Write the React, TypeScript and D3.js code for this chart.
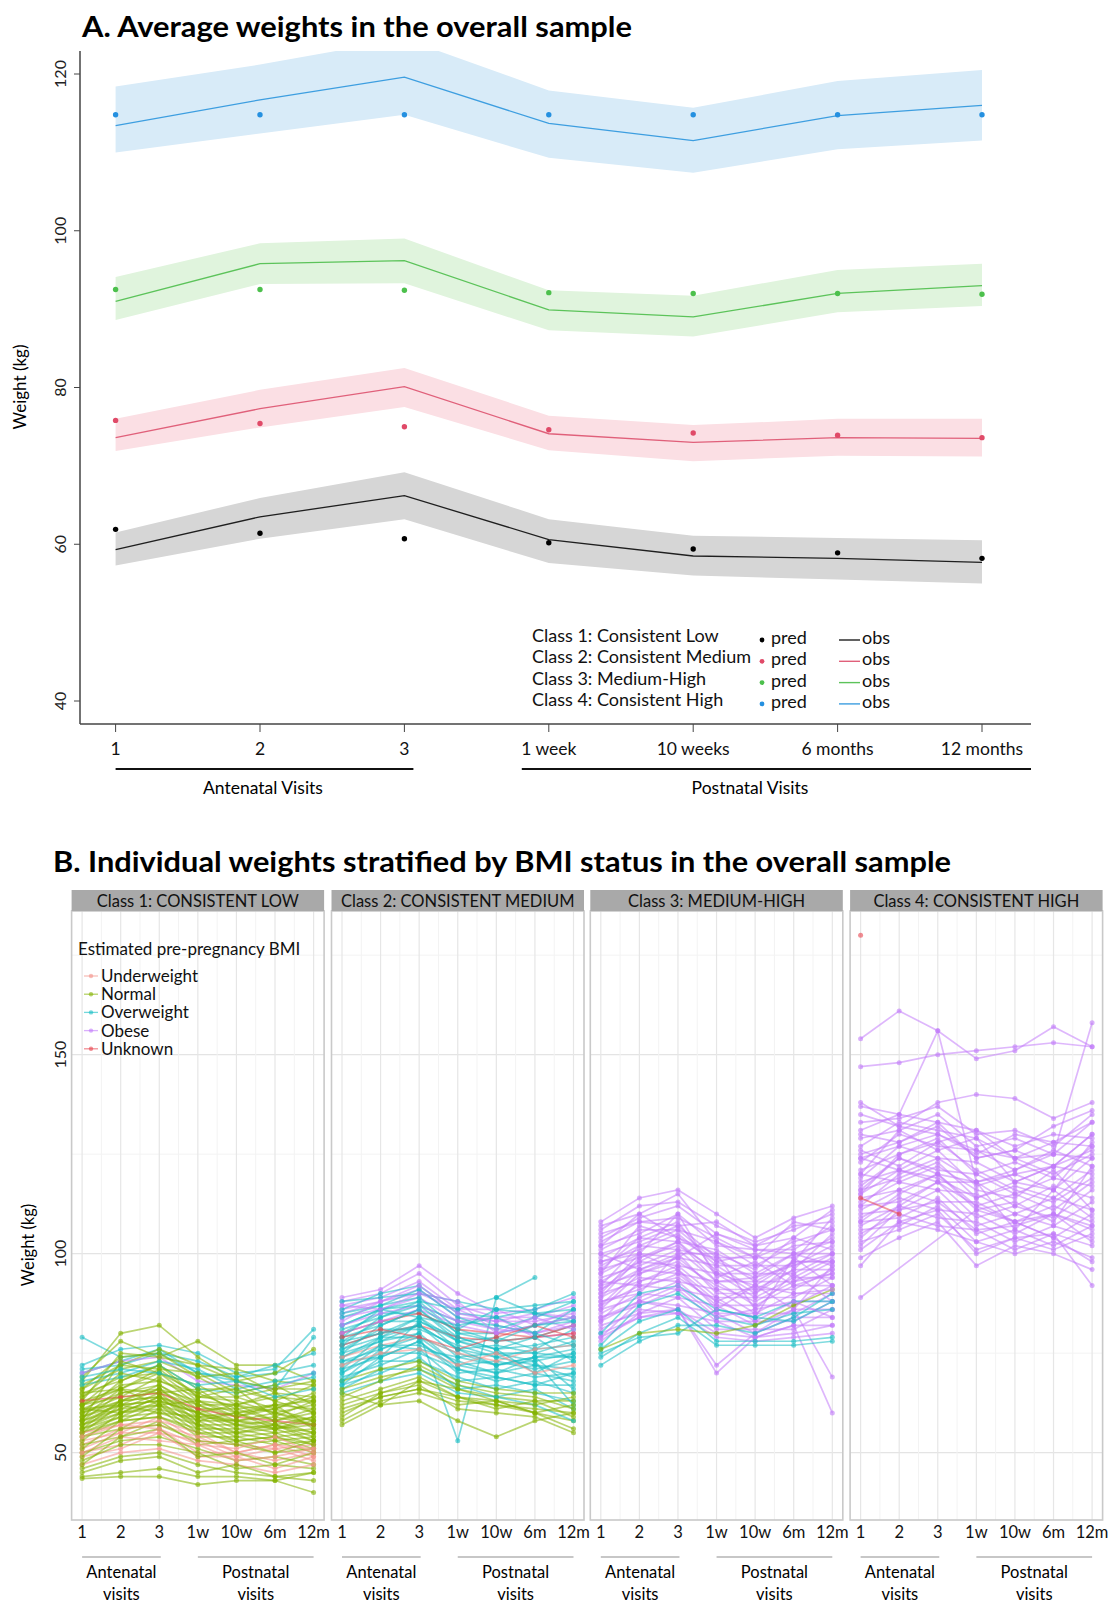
import React from "react";
import * as d3 from "d3";

// ---------- Panel A data ----------
const visitsA = ["1", "2", "3", "1 week", "10 weeks", "6 months", "12 months"];
const classLabels = [
  "Class 1: Consistent Low",
  "Class 2: Consistent Medium",
  "Class 3: Medium-High",
  "Class 4: Consistent High",
];
// class 1
const obs1 = [59.3, 63.5, 66.2, 60.6, 58.5, 58.2, 57.7];
const hi1 = [61.5, 65.9, 69.2, 63.2, 61.1, 60.8, 60.5];
const lo1 = [57.3, 60.7, 63.2, 57.6, 56.0, 55.5, 55.0];
const pred1 = [61.9, 61.4, 60.7, 60.2, 59.4, 58.9, 58.2];
// class 2
const obs2 = [73.6, 77.3, 80.1, 74.1, 73.0, 73.6, 73.5];
const hi2 = [76.0, 79.7, 82.5, 76.4, 75.2, 76.0, 76.0];
const lo2 = [71.9, 74.9, 77.5, 72.0, 70.6, 71.3, 71.2];
const pred2 = [75.8, 75.4, 75.0, 74.6, 74.2, 73.9, 73.6];
// class 3
const obs3 = [91.0, 95.8, 96.2, 89.9, 89.0, 92.0, 93.0];
const hi3 = [94.1, 98.4, 99.0, 92.4, 91.7, 95.0, 95.8];
const lo3 = [88.6, 93.2, 93.3, 87.3, 86.5, 89.6, 90.4];
const pred3 = [92.5, 92.5, 92.4, 92.1, 92.0, 92.0, 91.9];
// class 4
const obs4 = [113.4, 116.7, 119.6, 113.7, 111.5, 114.7, 116.0];
const hi4 = [118.4, 121.2, 124.5, 117.9, 115.7, 119.1, 120.5];
const lo4 = [110.0, 112.4, 114.8, 109.3, 107.4, 110.4, 111.5];
const pred4 = [114.8, 114.8, 114.8, 114.8, 114.8, 114.8, 114.8];

const yTicksA = [40, 60, 80, 100, 120];

// ---------- Panel B data ----------
const visitsB = ["1", "2", "3", "1w", "10w", "6m", "12m"];
const facetLabels = [
  "Class 1: CONSISTENT LOW",
  "Class 2: CONSISTENT MEDIUM",
  "Class 3: MEDIUM-HIGH",
  "Class 4: CONSISTENT HIGH",
];
const bmiNames = ["Underweight", "Normal", "Overweight", "Obese", "Unknown"];
const bmiCodes = ["U", "N", "O", "B", "X"];
const yTicksB = [50, 100, 150];

type Traj = (string | number | null)[];

const traj1: Traj[] = [
  ["O", 79, 74, 75, 73, 69, 70, 72],
  ["O", 72, 76, 77, 75, 70, 71, 81],
  ["O", 70, 73, 76, 70, 68, 66, 79],
  ["N", 68, 80, 82, 74, 68, 70, 76],
  ["N", 69, 78, 74, 78, 72, 72, 68],
  ["N", 67, 72, 76, 72, 71, 68, 67],
  ["O", 71, 72, 75, 70, 69, 72, 75],
  ["B", 70, 73, 74, 68, 67, 66, 70],
  ["N", 66, 71, 73, 69, 64, 66, 68],
  ["N", 65, 68, 72, 66, 66, 63, 67],
  ["N", 64, 69, 70, 67, 62, 64, 63],
  ["N", 63, 66, 71, 64, 64, 61, 65],
  ["N", 62, 67, 68, 65, 61, 62, 61],
  ["N", 62, 64, 69, 62, 62, 60, 62],
  ["N", 61, 65, 66, 63, 59, 61, 58],
  ["N", 60, 63, 67, 61, 61, 58, 60],
  ["N", 60, 64, 65, 62, 58, 59, 57],
  ["N", 59, 62, 66, 59, 60, 57, 59],
  ["N", 59, 63, 64, 61, 57, 58, 55],
  ["N", 58, 61, 65, 58, 58, 56, 57],
  ["N", 58, 62, 63, 60, 56, 57, 54],
  ["N", 57, 60, 64, 57, 57, 55, 56],
  ["N", 57, 61, 62, 59, 55, 56, 53],
  ["N", 56, 59, 63, 56, 56, 54, 55],
  ["N", 56, 60, 61, 58, 54, 55, 52],
  ["N", 55, 58, 62, 55, 55, 53, 54],
  ["N", 55, 59, 60, 57, 53, 54, 51],
  ["N", 54, 56, 61, 54, 54, 52, 53],
  ["N", 54, 58, 59, 56, 52, 53, 50],
  ["U", 53, 55, 59, 53, 52, 51, 52],
  ["U", 52, 56, 57, 54, 50, 52, 49],
  ["N", 52, 54, 58, 52, 53, 50, 51],
  ["U", 51, 55, 55, 53, 49, 51, 48],
  ["U", 50, 52, 56, 50, 50, 48, 50],
  ["N", 50, 53, 54, 51, 48, 49, 47],
  ["U", 49, 51, 55, 49, 49, 46, 49],
  ["N", 48, 52, 52, 50, 46, 47, 46],
  ["U", 47, 50, 51, 48, 47, 45, 47],
  ["N", 46, 49, 50, 47, 45, 44, 45],
  ["N", 44, 45, 46, 44, 44, 43, 45],
  ["N", 43.5, 44, 44, 42, 43, 43, 40],
  ["O", 68, 70, 73, 71, 66, 68, 70],
  ["O", 67, 69, 72, 66, 65, 67, 69],
  ["N", 63, 75, 74, 72, 68, 66, 66],
  ["N", 58, 73, 70, 65, 67, 63, 60],
  ["X", 63, 64, 65, 61, 59, 58, 57],
  ["U", 55, 57, 58, 55, 50, 52, 51],
  ["N", 61, 62, 63, 60, 57, 56, 58],
  ["N", 65, 66, 70, 63, 62, 65, 60],
  ["N", 62, 70, 68, 64, 66, 59, 63],
  ["N", 59, 66, 62, 63, 60, 62, 56],
  ["N", 57, 63, 66, 60, 62, 58, 61],
  ["N", 55, 62, 60, 59, 58, 60, 57],
  ["N", 53, 60, 62, 57, 55, 57, 55],
  ["N", 51, 58, 59, 55, 53, 54, 52],
  ["N", 49, 56, 57, 53, 52, 50, 53],
  ["U", 50, 54, 53, 52, 48, 49, 51],
  ["N", 47, 54, 56, 49, 50, 47, 50],
  ["N", 66, 74, 75, 69, 70, 65, 64],
  ["N", 64, 72, 71, 70, 65, 67, 62],
  ["O", 69, 71, 70, 67, 68, 64, 66],
  ["N", 60, 68, 72, 64, 63, 60, 58],
  ["N", 58, 65, 67, 62, 59, 62, 63],
  ["N", 56, 63, 64, 58, 60, 56, 59],
  ["U", 54, 57, 56, 52, 51, 54, 50],
  ["N", 45, 48, 49, 45, 47, 44, 43],
  ["N", 61, 60, 64, 60, 58, 57, 53],
  ["N", 62, 66, 65, 66, 60, 61, 64],
];

const traj2: Traj[] = [
  ["B", 89, 91, 97, 90, 85, 86, 89],
  ["B", 88, 90, 95, 87, 84, 84, 87],
  ["B", 87, 89, 93, 86, 86, 82, 86],
  ["B", 86, 88, 91, 84, 83, 85, 84],
  ["B", 85, 88, 90, 86, 82, 80, 83],
  ["B", 84, 86, 89, 83, 84, 79, 80],
  ["O", 82, 86, 88, 86, 89, 94, null],
  ["O", 86, 90, 92, 85, 84, 86, 90],
  ["O", 84, 87, 91, 84, 81, 84, 88],
  ["O", 82, 86, 87, 83, 82, 80, 86],
  ["O", 81, 84, 88, 80, 80, 82, 84],
  ["O", 80, 85, 85, 81, 78, 79, 82],
  ["O", 79, 82, 86, 78, 79, 76, 81],
  ["O", 78, 83, 83, 79, 76, 77, 79],
  ["O", 77, 80, 84, 76, 77, 75, 78],
  ["O", 76, 81, 81, 77, 74, 76, 77],
  ["O", 75, 78, 82, 74, 75, 73, 75],
  ["O", 74, 79, 79, 75, 72, 74, 74],
  ["O", 73, 76, 80, 72, 73, 71, 73],
  ["O", 72, 77, 77, 73, 70, 72, 71],
  ["O", 71, 74, 78, 70, 71, 69, 70],
  ["O", 70, 75, 75, 71, 68, 70, 68],
  ["O", 69, 72, 76, 68, 69, 67, 67],
  ["O", 68, 73, 73, 69, 66, 68, 65],
  ["O", 67, 70, 74, 66, 67, 65, 63],
  ["O", 66, 71, 71, 67, 64, 66, 61],
  ["O", 74, 78, 80, 53, 89, 85, 83],
  ["N", 63, 66, 69, 64, 62, 61, 60],
  ["N", 60, 64, 66, 63, 62, 60, 58],
  ["N", 58, 63, 65, 62, 63, 60, 56],
  ["N", 57, 62, 63, 58, 54, 58, 60],
  ["N", 66, 69, 71, 66, 64, 63, 63],
  ["N", 68, 71, 73, 68, 66, 65, 65],
  ["X", 80, 83, 85, 81, 80, 79, 82],
  ["X", 77, 80, 82, 79, 78, 79, 80],
  ["U", 74, 77, 79, 75, 73, 76, 77],
  ["B", 82, 85, 87, 83, 81, 80, 82],
  ["B", 80, 83, 86, 82, 80, 82, 84],
  ["O", 88, 89, 90, 88, 86, 87, 88],
  ["O", 85, 87, 89, 81, 86, 85, 86],
  ["N", 62, 65, 67, 61, 60, 59, 55],
  ["O", 65, 68, 70, 65, 64, 62, 58],
  ["N", 61, 64, 66, 64, 63, 62, 64],
  ["O", 76, 79, 84, 78, 75, 75, 74],
  ["O", 79, 86, 84, 82, 84, 80, 77],
  ["O", 75, 82, 86, 79, 76, 79, 73],
  ["O", 71, 79, 82, 76, 74, 72, 69],
  ["O", 68, 76, 79, 72, 70, 74, 66],
  ["O", 73, 74, 83, 78, 76, 70, 75],
  ["O", 70, 77, 76, 74, 72, 73, 62],
  ["B", 83, 88, 92, 85, 83, 83, 85],
  ["B", 87, 86, 90, 88, 80, 84, 81],
  ["X", 79, 81, 79, 76, 79, 82, 79],
  ["U", 72, 75, 76, 72, 75, 70, 72],
  ["N", 64, 68, 72, 67, 65, 64, 61],
  ["N", 59, 65, 68, 64, 61, 63, 59],
  ["O", 67, 74, 78, 71, 69, 67, 70],
  ["O", 78, 80, 82, 76, 72, 74, 76],
  ["O", 77, 84, 87, 80, 78, 82, 83],
  ["N", 65, 62, 68, 66, 63, 60, 62],
];

const traj3: Traj[] = [
  ["B", 108, 114, 116, 110, 104, 109, 112],
  ["B", 106, 112, 113, 107, 103, 106, 110],
  ["B", 104, 109, 112, 105, 102, 107, 108],
  ["B", 103, 108, 109, 104, 99, 103, 106],
  ["B", 102, 105, 110, 102, 101, 101, 107],
  ["B", 101, 106, 106, 103, 97, 102, 103],
  ["B", 100, 103, 107, 99, 99, 99, 104],
  ["B", 99, 104, 103, 101, 95, 100, 100],
  ["B", 98, 101, 105, 97, 97, 97, 102],
  ["B", 97, 102, 101, 99, 93, 98, 98],
  ["B", 96, 99, 103, 95, 95, 95, 100],
  ["B", 95, 100, 99, 97, 91, 96, 96],
  ["B", 94, 97, 101, 93, 93, 93, 98],
  ["B", 93, 98, 97, 95, 89, 94, 94],
  ["B", 92, 95, 99, 91, 91, 91, 96],
  ["B", 91, 96, 95, 93, 87, 92, 92],
  ["B", 90, 93, 97, 89, 89, 89, 94],
  ["B", 89, 94, 93, 91, 85, 90, 90],
  ["B", 88, 91, 95, 87, 87, 87, 92],
  ["B", 87, 92, 91, 89, 83, 88, 88],
  ["B", 86, 89, 93, 85, 85, 85, 90],
  ["B", 85, 90, 89, 87, 82, 86, 86],
  ["B", 84, 87, 91, 83, 83, 83, 88],
  ["B", 83, 88, 87, 85, 80, 84, 84],
  ["B", 82, 85, 89, 81, 81, 81, 86],
  ["B", 81, 86, 85, 83, 79, 82, 82],
  ["B", 80, 84, 86, 80, 79, 80, 82],
  ["B", 79, 84, 85, 79, 78, 79, 80],
  ["B", 78, 85, 86, 70, 79, 82, 60],
  ["B", 84, 88, 86, 72, 80, 86, 69],
  ["O", 77, 87, 90, 84, 82, 85, 86],
  ["O", 76, 83, 86, 78, 78, 78, 79],
  ["O", 74, 80, 84, 77, 77, 77, 78],
  ["O", 72, 78, 82, 82, 80, 84, 90],
  ["O", 75, 79, 80, 86, 84, 88, 88],
  ["N", 76, 80, 81, 80, 82, 87, 91],
  ["B", 107, 110, 115, 103, 99, 108, 106],
  ["B", 105, 108, 107, 108, 102, 104, 111],
  ["B", 96, 104, 108, 95, 92, 98, 109],
  ["B", 91, 98, 103, 93, 94, 100, 103],
  ["B", 87, 96, 100, 90, 90, 98, 98],
  ["B", 100, 96, 99, 105, 101, 100, 97],
  ["B", 95, 107, 104, 100, 96, 104, 101],
  ["B", 92, 102, 106, 98, 100, 94, 99],
  ["B", 89, 99, 102, 96, 90, 96, 105],
  ["B", 86, 95, 98, 92, 88, 93, 95],
  ["B", 83, 93, 96, 88, 92, 90, 91],
  ["B", 98, 100, 110, 94, 98, 92, 95],
  ["B", 102, 110, 104, 98, 94, 97, 100],
  ["B", 88, 90, 100, 100, 86, 95, 88],
  ["B", 93, 92, 94, 88, 84, 99, 92],
  ["O", 80, 90, 92, 86, 84, 83, 88],
  ["B", 79, 88, 92, 84, 86, 88, 84],
  ["B", 90, 100, 96, 86, 92, 86, 97],
];

const traj4: Traj[] = [
  ["B", 154, 161, 156, 149, 151, 157, 152],
  ["B", 147, 148, 150, 151, 152, 153, 152],
  ["B", 137, 135, 156, 118, 120, 122, 126],
  ["B", 124, 127, 130, 126, 124, 125, 158],
  ["B", 138, 132, 138, 140, 139, 134, 138],
  ["B", 133, 134, 137, 130, 131, 127, 135],
  ["B", 131, 135, 133, 131, 127, 130, 129],
  ["B", 129, 131, 135, 127, 129, 125, 133],
  ["B", 127, 133, 131, 129, 124, 128, 127],
  ["B", 125, 128, 132, 124, 126, 122, 130],
  ["B", 123, 130, 127, 126, 121, 125, 124],
  ["B", 121, 125, 129, 120, 123, 119, 127],
  ["B", 119, 127, 124, 123, 118, 122, 120],
  ["B", 118, 121, 126, 117, 120, 116, 124],
  ["B", 117, 124, 121, 120, 115, 119, 117],
  ["B", 116, 119, 123, 114, 117, 114, 121],
  ["B", 115, 121, 118, 118, 112, 117, 114],
  ["B", 114, 116, 120, 112, 115, 111, 118],
  ["B", 113, 118, 116, 115, 110, 114, 111],
  ["B", 112, 113, 118, 109, 112, 109, 116],
  ["B", 111, 116, 113, 113, 108, 112, 108],
  ["B", 110, 111, 116, 107, 110, 107, 113],
  ["B", 109, 114, 111, 110, 105, 110, 106],
  ["B", 108, 109, 114, 105, 108, 104, 110],
  ["B", 107, 112, 109, 108, 103, 107, 104],
  ["B", 106, 107, 112, 103, 106, 102, 107],
  ["B", 105, 110, 107, 106, 101, 105, 102],
  ["B", 103, 106, 110, 101, 104, 101, 105],
  ["B", 101, 108, 106, 103, 100, 103, 99],
  ["B", 99, 104, 108, 97, 102, 100, 96],
  ["B", 89, null, null, 111, 108, 110, 107],
  ["B", 97, 108, 111, 100, 104, 105, 92],
  ["B", 130, 128, 133, 124, 126, 132, 136],
  ["B", 120, 131, 126, 129, 118, 122, 130],
  ["B", 135, 132, 130, 125, 130, 128, 133],
  ["B", 126, 122, 128, 131, 124, 120, 125],
  ["B", 104, 112, 118, 112, 108, 104, 98],
  ["B", 116, 124, 120, 118, 121, 126, 122],
  ["B", 120, 118, 122, 116, 114, 121, 111],
  ["B", 115, 125, 128, 121, 116, 113, 119],
  ["B", 108, 115, 120, 111, 113, 108, 122],
  ["B", 102, 111, 113, 106, 107, 110, 103],
  ["B", 124, 121, 119, 114, 118, 116, 128],
  ["B", 112, 120, 124, 118, 106, 116, 109],
  ["X", 180, null, null, null, null, null, null],
  ["X", 114, 110, null, null, null, null, null],
];

// ---------- styling (not data) ----------
const FONT = "Lato, 'Open Sans', sans-serif";
const styleA = [
  { line: "#1f1f1f", band: "#d6d6d6", dot: "#000000" },
  { line: "#e0607a", band: "#fbdfe4", dot: "#e04a68" },
  { line: "#5cc35a", band: "#e0f4dd", dot: "#4cc04c" },
  { line: "#3d9ee0", band: "#d8ebf8", dot: "#2590e0" },
];
const bmiColor: Record<string, string> = {
  U: "#f4928b",
  N: "#84b300",
  O: "#17bec4",
  B: "#c27cfa",
  X: "#e8454f",
};

const xA = d3.scalePoint<string>().domain(visitsA).range([115.6, 982]);
const yA = d3.scaleLinear().domain([40, 120]).range([701, 74]);
const yB = d3.scaleLinear().domain([50, 150]).range([1452.7, 1054.7]);

const facetLeft = [71.6, 331.5, 590.3, 850.1];
const facetW = 252.5;
const stripTop = 890;
const stripBot = 911;
const facetBot = 1520;

function PanelA() {
  const classes = [
    { obs: obs1, lo: lo1, hi: hi1, pred: pred1 },
    { obs: obs2, lo: lo2, hi: hi2, pred: pred2 },
    { obs: obs3, lo: lo3, hi: hi3, pred: pred3 },
    { obs: obs4, lo: lo4, hi: hi4, pred: pred4 },
  ];
  const line = d3
    .line<number>()
    .x((_, i) => xA(visitsA[i])!)
    .y((d) => yA(d));
  return (
    <g>
      <text x={82} y={37} fontFamily={FONT} fontWeight={700} fontSize={29} textLength={550} lengthAdjust="spacingAndGlyphs">
        A. Average weights in the overall sample
      </text>
      <defs>
        <clipPath id="clipA">
          <rect x={80} y={51} width={951} height={673} />
        </clipPath>
      </defs>
      <g clipPath="url(#clipA)">
        {classes.map((c, k) => {
          const area = d3
            .area<number>()
            .x((_, i) => xA(visitsA[i])!)
            .y0((_, i) => yA(c.lo[i]))
            .y1((d) => yA(d));
          return <path key={"b" + k} d={area(c.hi)!} fill={styleA[k].band} />;
        })}
        {classes.map((c, k) => (
          <path key={"l" + k} d={line(c.obs)!} fill="none" stroke={styleA[k].line} strokeWidth={1.3} />
        ))}
        {classes.map((c, k) =>
          c.pred.map((v, i) => (
            <circle key={"p" + k + i} cx={xA(visitsA[i])} cy={yA(v)} r={2.7} fill={styleA[k].dot} />
          ))
        )}
      </g>
      {/* axes */}
      <line x1={80} y1={51} x2={80} y2={724} stroke="#444" strokeWidth={1.5} />
      <line x1={80} y1={724} x2={1031} y2={724} stroke="#444" strokeWidth={1.5} />
      {yTicksA.map((t) => (
        <g key={t}>
          <line x1={74} x2={80} y1={yA(t)} y2={yA(t)} stroke="#444" />
          <text transform={`translate(66,${yA(t)}) rotate(-90)`} textAnchor="middle" fontFamily={FONT} fontSize={16} fill="#222">
            {t}
          </text>
        </g>
      ))}
      <text transform="translate(26,387) rotate(-90)" textAnchor="middle" fontFamily={FONT} fontSize={17}>
        Weight (kg)
      </text>
      {visitsA.map((v) => (
        <g key={v}>
          <line x1={xA(v)} x2={xA(v)} y1={724} y2={732} stroke="#444" />
          <text x={xA(v)} y={755} textAnchor="middle" fontFamily={FONT} fontSize={17.5} fill="#111">
            {v}
          </text>
        </g>
      ))}
      <line x1={xA("1")!} x2={xA("3")! + 9} y1={769} y2={769} stroke="#111" strokeWidth={2} />
      <line x1={xA("1 week")! - 27} x2={1031} y1={769} y2={769} stroke="#111" strokeWidth={2} />
      <text x={263} y={794} textAnchor="middle" fontFamily={FONT} fontSize={17.5}>
        Antenatal Visits
      </text>
      <text x={750} y={794} textAnchor="middle" fontFamily={FONT} fontSize={17.5}>
        Postnatal Visits
      </text>
      {/* legend */}
      {classLabels.map((lab, k) => {
        const y = 636 + k * 21.3;
        return (
          <g key={lab}>
            <text x={532} y={y + 6} fontFamily={FONT} fontSize={18} fill="#111">
              {lab}
            </text>
            <circle cx={762} cy={y + 4} r={2.4} fill={styleA[k].dot} />
            <text x={771} y={y + 8} fontFamily={FONT} fontSize={18} fill="#111">
              pred
            </text>
            <line x1={839} x2={860} y1={y + 4} y2={y + 4} stroke={styleA[k].line} strokeWidth={1.4} />
            <text x={862} y={y + 8} fontFamily={FONT} fontSize={18} fill="#111">
              obs
            </text>
          </g>
        );
      })}
    </g>
  );
}

function Facet({ idx, data }: { idx: number; data: Traj[] }) {
  const left = facetLeft[idx];
  const x = d3.scalePoint<string>().domain(visitsB).range([left + 10.5, left + 242]);
  const step = x.step();
  const line = d3
    .line<[number, number]>()
    .x((d) => d[0])
    .y((d) => d[1]);
  const minorX = visitsB.slice(0, -1).map((v) => x(v)! + step / 2);
  const antL = x("1")!;
  const antR = x("3")! + 1.5;
  const posL = x("1w")!;
  const posR = x("12m")!;
  return (
    <g>
      <defs>
        <clipPath id={"clipB" + idx}>
          <rect x={left} y={stripBot} width={facetW} height={facetBot - stripBot} />
        </clipPath>
      </defs>
      <rect x={left} y={stripBot} width={facetW} height={facetBot - stripBot} fill="#fff" />
      <g clipPath={`url(#clipB${idx})`}>
        {[75, 125, 175].map((t) => (
          <line key={"mh" + t} x1={left} x2={left + facetW} y1={yB(t)} y2={yB(t)} stroke="#f3f3f3" />
        ))}
        {yTicksB.map((t) => (
          <line key={"h" + t} x1={left} x2={left + facetW} y1={yB(t)} y2={yB(t)} stroke="#e4e4e4" strokeWidth={1.2} />
        ))}
        {minorX.map((mx, i) => (
          <line key={"mv" + i} x1={mx} x2={mx} y1={stripBot} y2={facetBot} stroke="#f3f3f3" />
        ))}
        {visitsB.map((v) => (
          <line key={"v" + v} x1={x(v)} x2={x(v)} y1={stripBot} y2={facetBot} stroke="#e6e6e6" strokeWidth={1.2} />
        ))}
        {data.map((row, r) => {
          const pts: [number, number][] = [];
          for (let i = 0; i < 7; i++) {
            const val = row[i + 1];
            if (val !== null && val !== undefined) pts.push([x(visitsB[i])!, yB(val as number)]);
          }
          const col = bmiColor[row[0] as string];
          return (
            <g key={r}>
              {pts.length > 1 && (
                <path d={line(pts)!} fill="none" stroke={col} strokeOpacity={0.55} strokeWidth={1.7} />
              )}
              {pts.map((p, j) => (
                <circle key={j} cx={p[0]} cy={p[1]} r={2.5} fill={col} fillOpacity={0.6} />
              ))}
            </g>
          );
        })}
      </g>
      <rect x={left} y={stripBot} width={facetW} height={facetBot - stripBot} fill="none" stroke="#c9c9c9" strokeWidth={1.6} />
      <rect x={left} y={stripTop} width={facetW} height={stripBot - stripTop} fill="#a9a9a9" />
      <text x={left + facetW / 2} y={907} textAnchor="middle" fontFamily={FONT} fontSize={16.5} fill="#111">
        {facetLabels[idx]}
      </text>
      {visitsB.map((v) => (
        <text key={"t" + v} x={x(v)} y={1538} textAnchor="middle" fontFamily={FONT} fontSize={16.5} fill="#111">
          {v}
        </text>
      ))}
      <line x1={antL} x2={antR} y1={1557} y2={1557} stroke="#b5b5b5" strokeWidth={1.5} />
      <line x1={posL} x2={posR} y1={1557} y2={1557} stroke="#b5b5b5" strokeWidth={1.5} />
      <text x={(antL + antR) / 2} y={1578} textAnchor="middle" fontFamily={FONT} fontSize={16.5}>
        Antenatal
      </text>
      <text x={(antL + antR) / 2} y={1600} textAnchor="middle" fontFamily={FONT} fontSize={16.5}>
        visits
      </text>
      <text x={(posL + posR) / 2} y={1578} textAnchor="middle" fontFamily={FONT} fontSize={16.5}>
        Postnatal
      </text>
      <text x={(posL + posR) / 2} y={1600} textAnchor="middle" fontFamily={FONT} fontSize={16.5}>
        visits
      </text>
    </g>
  );
}

function PanelB() {
  const all = [traj1, traj2, traj3, traj4];
  return (
    <g>
      <text x={53} y={872} fontFamily={FONT} fontWeight={700} fontSize={29} textLength={898} lengthAdjust="spacingAndGlyphs">
        B. Individual weights stratified by BMI status in the overall sample
      </text>
      {all.map((d, i) => (
        <Facet key={i} idx={i} data={d} />
      ))}
      {yTicksB.map((t) => (
        <text key={t} transform={`translate(66,${yB(t)}) rotate(-90)`} textAnchor="middle" fontFamily={FONT} fontSize={16} fill="#222">
          {t}
        </text>
      ))}
      <text transform="translate(34,1245) rotate(-90)" textAnchor="middle" fontFamily={FONT} fontSize={16.5}>
        Weight (kg)
      </text>
      {/* legend */}
      <text x={78} y={955} fontFamily={FONT} fontSize={17} fill="#111">
        Estimated pre-pregnancy BMI
      </text>
      {bmiNames.map((n, i) => {
        const y = 976 + i * 18.2;
        const col = bmiColor[bmiCodes[i]];
        return (
          <g key={n}>
            <line x1={84} x2={98} y1={y} y2={y} stroke={col} strokeOpacity={0.6} strokeWidth={1.3} />
            <circle cx={91} cy={y} r={2.2} fill={col} fillOpacity={0.6} />
            <text x={101} y={y + 6} fontFamily={FONT} fontSize={17} fill="#111">
              {n}
            </text>
          </g>
        );
      })}
    </g>
  );
}

export default function App() {
  return (
    <svg width={1111} height={1604} style={{ position: "absolute", left: 0, top: 0, background: "#fff" }}>
      <rect x={0} y={0} width={1111} height={1604} fill="#fff" />
      <PanelA />
      <PanelB />
    </svg>
  );
}
